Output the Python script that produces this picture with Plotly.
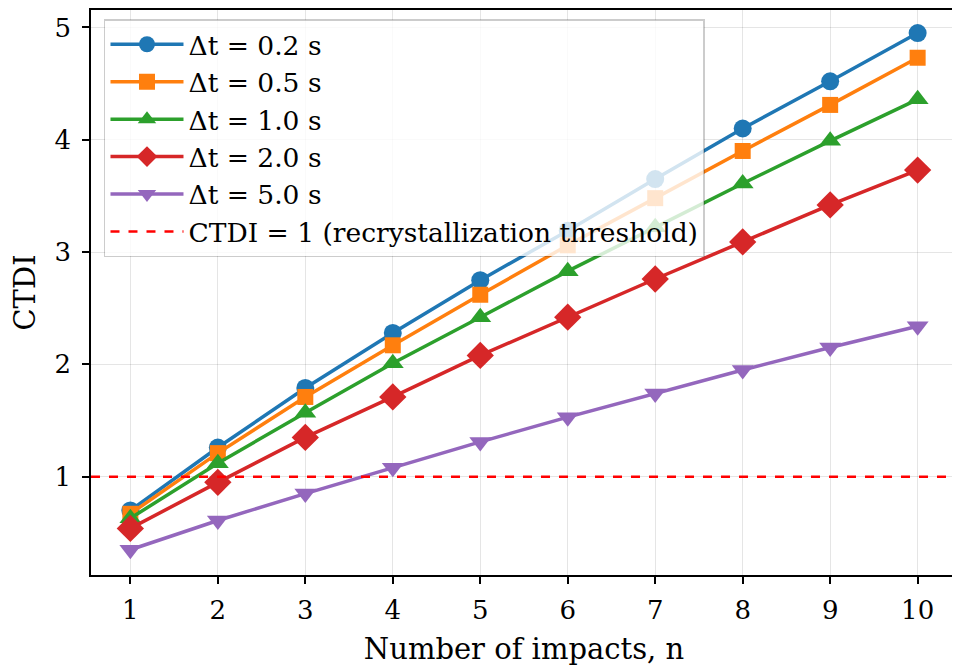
import plotly.graph_objects as go

n_impacts = [1, 2, 3, 4, 5, 6, 7, 8, 9, 10]
ctdi_02 = [0.70, 1.26, 1.79, 2.28, 2.75, 3.19, 3.65, 4.10, 4.52, 4.95]
ctdi_05 = [0.67, 1.21, 1.71, 2.17, 2.62, 3.06, 3.48, 3.90, 4.31, 4.73]
ctdi_10 = [0.63, 1.12, 1.57, 2.01, 2.42, 2.83, 3.22, 3.61, 3.99, 4.36]
ctdi_20 = [0.54, 0.95, 1.35, 1.71, 2.08, 2.42, 2.76, 3.09, 3.42, 3.73]
ctdi_50 = [0.35, 0.61, 0.85, 1.08, 1.31, 1.53, 1.74, 1.95, 2.15, 2.34]
threshold = 1.0

series = [
    ("Δt = 0.2 s", ctdi_02, "#1f77b4", "circle", 18),
    ("Δt = 0.5 s", ctdi_05, "#ff7f0e", "square", 16),
    ("Δt = 1.0 s", ctdi_10, "#2ca02c", "triangle-up", 19),
    ("Δt = 2.0 s", ctdi_20, "#d62728", "diamond", 21),
    ("Δt = 5.0 s", ctdi_50, "#9467bd", "triangle-down", 19),
]

FONT = "DejaVu Serif"
fig = go.Figure()
for i, (name, vals, color, sym, sz) in enumerate(series):
    fig.add_trace(go.Scatter(
        x=n_impacts, y=vals, name=name, mode="lines+markers",
        line=dict(color=color, width=3.5),
        marker=dict(symbol=sym, size=sz, color=color),
        legendgroup=f"g{i}",
    ))

fig.add_hline(y=threshold, line=dict(color="#ff0000", width=2.5, dash="dash"),
              showlegend=True, name="CTDI = 1 (recrystallization threshold)",
              legendgroup="g9")

axis_common = dict(
    showline=True, linecolor="black", linewidth=1.5, mirror=True,
    ticks="outside", ticklen=7, tickwidth=1.5, tickcolor="black",
    showgrid=True, gridcolor="rgba(0,0,0,0.1)", gridwidth=1.2,
    zeroline=False, tickfont=dict(family=FONT, size=26, color="black"),
    automargin=False,
)
fig.update_xaxes(range=[0.55, 10.45], tickvals=n_impacts, ticklabelstandoff=4,
                 title=dict(text="Number of impacts, n", font=dict(family=FONT, size=29, color="black"), standoff=22),
                 **axis_common)
fig.update_yaxes(range=[0.125, 5.155], tickvals=[1, 2, 3, 4, 5], ticklabelstandoff=6,
                 title=dict(text="CTDI", font=dict(family=FONT, size=29, color="black"), standoff=20),
                 **axis_common)

fig.update_layout(
    width=952, height=658,
    margin=dict(l=83, r=3, t=2, b=91),
    plot_bgcolor="white", paper_bgcolor="white",
    font=dict(family=FONT, size=26, color="black"),
    legend=dict(
        x=0.015, y=0.984, xanchor="left", yanchor="top",
        bgcolor="rgba(255,255,255,0.8)", bordercolor="rgba(0,0,0,0.2)", borderwidth=1.5,
        font=dict(family=FONT, size=26.5, color="black"),
        tracegroupgap=0, itemwidth=73, traceorder="grouped",
    ),
)

fig.write_html("out.html")
